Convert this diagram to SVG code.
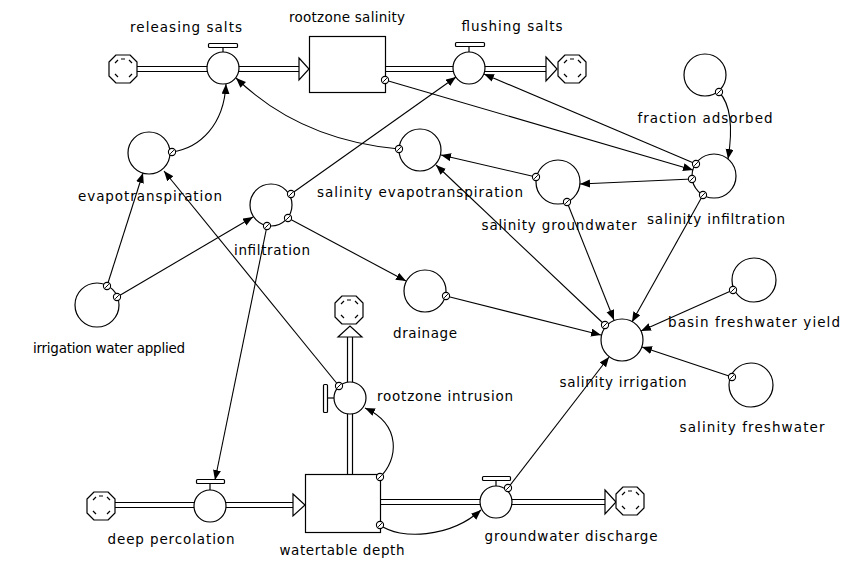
<svg xmlns="http://www.w3.org/2000/svg" width="844" height="561" viewBox="0 0 844 561">
<style>
.t{font-family:"DejaVu Sans","Liberation Sans",sans-serif;font-size:13.5px;fill:#000;text-anchor:middle}
.c{fill:#fff;stroke:#000;stroke-width:1.2}
.p{stroke:#000;stroke-width:1.2;fill:none}
.l{stroke:#000;stroke-width:1.1;fill:none;marker-end:url(#ah)}
.tri{fill:#fff;stroke:#000;stroke-width:1.2}
</style>
<defs>
<marker id="ah" markerUnits="userSpaceOnUse" markerWidth="11" markerHeight="9" refX="10" refY="4" orient="auto" viewBox="0 0 11 9">
<path d="M0,0 L10,4 L0,8 z" fill="#000"/>
</marker>
<g id="cloud">
<path d="M-7,-14 L7,-14 L14,-7 L14,7 L7,14 L-7,14 L-14,7 L-14,-7 Z" fill="#fff" stroke="#000" stroke-width="1.2" stroke-linejoin="round"/>
<path d="M-8,-6 L-5,-9 M6,-9 L9,-6 M9,5 L6,8 M-5,8 L-8,5 M-2,-10 L2,-10" stroke="#000" stroke-width="1.2" fill="none"/>
</g>
<g id="o">
<circle r="3.6" fill="#fff" stroke="#000" stroke-width="1.1"/>
<path d="M-1.8,1.8 L1.8,-1.8" stroke="#000" stroke-width="1"/>
</g>
</defs>
<rect width="844" height="561" fill="#fff"/>

<g id="nodes">
<g id="flow-releasing">
<use href="#cloud" x="123" y="69"/>
<line class="p" x1="137" y1="66.5" x2="299" y2="66.5"/>
<line class="p" x1="137" y1="71.5" x2="299" y2="71.5"/>
<polygon class="tri" points="299,58 309,69 299,80"/>
</g>
<g id="releasing-salts">
<circle class="c" cx="223" cy="68" r="16"/>
<line class="p" x1="223" y1="47" x2="223" y2="52"/>
<rect class="c" x="208.5" y="43.5" width="29" height="4" rx="1"/>
<text class="t" x="186" y="32" textLength="112" lengthAdjust="spacing">releasing salts</text>
</g>
<g id="rootzone-salinity">
<rect class="c" x="309.5" y="36.5" width="76" height="56"/>
<text class="t" x="347" y="22" textLength="116" lengthAdjust="spacing">rootzone salinity</text>
</g>
<g id="flow-flushing">
<line class="p" x1="386" y1="66.5" x2="546" y2="66.5"/>
<line class="p" x1="386" y1="71.5" x2="546" y2="71.5"/>
<polygon class="tri" points="546,57 557,69 546,81"/>
<use href="#cloud" x="572" y="69"/>
</g>
<g id="flushing-salts">
<circle class="c" cx="469" cy="68" r="16"/>
<line class="p" x1="469" y1="46" x2="469" y2="52"/>
<rect class="c" x="455.5" y="42.5" width="29" height="4" rx="1"/>
<text class="t" x="512" y="31" textLength="101" lengthAdjust="spacing">flushing salts</text>
</g>
<g id="fraction-adsorbed">
<circle class="c" cx="705" cy="75" r="21"/>
<text class="t" x="705" y="123" textLength="135" lengthAdjust="spacing">fraction adsorbed</text>
</g>
<g id="salinity-infiltration">
<circle class="c" cx="714" cy="176" r="22"/>
<text class="t" x="716" y="224" textLength="138" lengthAdjust="spacing">salinity infiltration</text>
</g>
<g id="salinity-groundwater">
<circle class="c" cx="558" cy="182" r="22"/>
<text class="t" x="559" y="230" textLength="155" lengthAdjust="spacing">salinity groundwater</text>
</g>
<g id="salinity-evapotranspiration">
<circle class="c" cx="420" cy="150" r="21"/>
<text class="t" x="420" y="197" textLength="206" lengthAdjust="spacing">salinity evapotranspiration</text>
</g>
<g id="evapotranspiration">
<circle class="c" cx="149" cy="153" r="21"/>
<text class="t" x="150" y="201" textLength="144" lengthAdjust="spacing">evapotranspiration</text>
</g>
<g id="infiltration">
<circle class="c" cx="271" cy="205" r="21"/>
<text class="t" x="272" y="255" textLength="76" lengthAdjust="spacing">infiltration</text>
</g>
<g id="irrigation-water-applied">
<circle class="c" cx="97" cy="305" r="22"/>
<text class="t" x="109" y="353" textLength="152" lengthAdjust="spacing">irrigation water applied</text>
</g>
<g id="drainage">
<circle class="c" cx="425" cy="291" r="21"/>
<text class="t" x="425" y="338" textLength="64" lengthAdjust="spacing">drainage</text>
</g>
<g id="salinity-irrigation">
<circle class="c" cx="622" cy="340" r="21"/>
<text class="t" x="623" y="387" textLength="127" lengthAdjust="spacing">salinity irrigation</text>
</g>
<g id="basin-freshwater-yield">
<circle class="c" cx="754" cy="280" r="22"/>
<text class="t" x="754" y="327" textLength="172" lengthAdjust="spacing">basin freshwater yield</text>
</g>
<g id="salinity-freshwater">
<circle class="c" cx="751" cy="385" r="22"/>
<text class="t" x="752" y="432" textLength="145" lengthAdjust="spacing">salinity freshwater</text>
</g>
<g id="flow-deep">
<use href="#cloud" x="101" y="506"/>
<line class="p" x1="115" y1="502.5" x2="293" y2="502.5"/>
<line class="p" x1="115" y1="507.5" x2="293" y2="507.5"/>
<polygon class="tri" points="293,494 305,505 293,516"/>
</g>
<g id="deep-percolation">
<circle class="c" cx="210" cy="506" r="16"/>
<line class="p" x1="210" y1="483" x2="210" y2="490"/>
<rect class="c" x="196.5" y="479.5" width="28" height="4" rx="1"/>
<text class="t" x="171" y="544" textLength="127" lengthAdjust="spacing">deep percolation</text>
</g>
<g id="watertable-depth">
<rect class="c" x="305.5" y="474.5" width="75" height="58"/>
<text class="t" x="342" y="555" textLength="125" lengthAdjust="spacing">watertable depth</text>
</g>
<g id="flow-intrusion">
<line class="p" x1="347.5" y1="474" x2="347.5" y2="337"/>
<line class="p" x1="352.5" y1="474" x2="352.5" y2="337"/>
<polygon class="tri" points="338,337 350,326 362,337"/>
<use href="#cloud" x="349" y="310"/>
</g>
<g id="rootzone-intrusion">
<circle class="c" cx="350" cy="398" r="16"/>
<line class="p" x1="328" y1="398" x2="334" y2="398"/>
<rect class="c" x="323.5" y="384.5" width="4" height="28" rx="1"/>
<text class="t" x="445" y="401" textLength="136" lengthAdjust="spacing">rootzone intrusion</text>
</g>
<g id="flow-discharge">
<line class="p" x1="380" y1="499.5" x2="605" y2="499.5"/>
<line class="p" x1="380" y1="504.5" x2="605" y2="504.5"/>
<polygon class="tri" points="605,490 616,502 605,514"/>
<use href="#cloud" x="630" y="501"/>
</g>
<g id="groundwater-discharge">
<circle class="c" cx="496" cy="502" r="16"/>
<line class="p" x1="496" y1="480" x2="496" y2="486"/>
<rect class="c" x="482.5" y="476.5" width="28" height="4" rx="1"/>
<text class="t" x="571" y="541" textLength="173" lengthAdjust="spacing">groundwater discharge</text>
</g>
</g>

<g id="connectors">
<path class="l" d="M172,152 C200,148 224,125 226,84"/>
<path class="l" d="M399,149 Q300,140 236,78"/>
<path class="l" d="M385,80 L693,170"/>
<path class="l" d="M291,194 L456,77"/>
<path class="l" d="M107,286 L143,173"/>
<path class="l" d="M117,297 L253,217"/>
<path class="l" d="M267,226 L215,480"/>
<path class="l" d="M288,218 L406,281"/>
<path class="l" d="M339,386 L164,171"/>
<path class="l" d="M380,477 C398,460 402,425 365,408"/>
<path class="l" d="M380,525 C400,540 450,538 481,510"/>
<path class="l" d="M508,488 L609,357"/>
<path class="l" d="M446,296 L601,335"/>
<path class="l" d="M536,177 L441,155"/>
<path class="l" d="M692,179 L580,184"/>
<path class="l" d="M719,92 Q736,110 728,159"/>
<path class="l" d="M605,325 L436,165"/>
<path class="l" d="M567,202 L614,320"/>
<path class="l" d="M703,195 L632,322"/>
<path class="l" d="M733,290 L641,331"/>
<path class="l" d="M732,377 L642,347"/>
<path class="l" d="M696,164 L484,74"/>
<use href="#o" x="172" y="152"/>
<use href="#o" x="399" y="149"/>
<use href="#o" x="385" y="80"/>
<use href="#o" x="291" y="194"/>
<use href="#o" x="107" y="286"/>
<use href="#o" x="117" y="297"/>
<use href="#o" x="267" y="226"/>
<use href="#o" x="288" y="218"/>
<use href="#o" x="339" y="386"/>
<use href="#o" x="380" y="477"/>
<use href="#o" x="380" y="525"/>
<use href="#o" x="508" y="488"/>
<use href="#o" x="446" y="296"/>
<use href="#o" x="536" y="177"/>
<use href="#o" x="692" y="179"/>
<use href="#o" x="719" y="92"/>
<use href="#o" x="605" y="325"/>
<use href="#o" x="567" y="202"/>
<use href="#o" x="703" y="195"/>
<use href="#o" x="733" y="290"/>
<use href="#o" x="732" y="377"/>
<use href="#o" x="696" y="164"/>
</g>
</svg>
